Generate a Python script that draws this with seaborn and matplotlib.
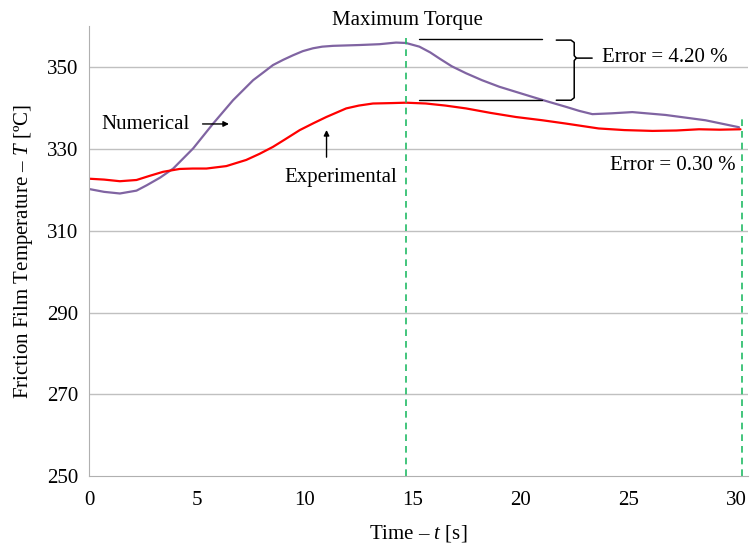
import numpy as np
import pandas as pd
import matplotlib
matplotlib.use("Agg")
import matplotlib.pyplot as plt
import seaborn as sns

# values
num_time = [0.0, 0.7, 1.43, 2.2, 2.67, 3.3, 3.9, 4.82, 5.75, 6.67, 7.6, 8.1, 8.52,
            9.0, 9.45, 9.9, 10.37, 10.8, 11.3, 12.53, 13.45, 14.22, 14.68, 15.3,
            15.8, 16.23, 16.8, 17.46, 18.2, 19.0, 19.8, 20.54, 21.3, 22.08, 22.7,
            23.31, 24.2, 25.16, 26.7, 28.55, 30.1]
num_temp = [320.2, 319.5, 319.1, 319.8, 321.1, 323.0, 325.2, 330.1, 336.2, 341.9,
            346.8, 348.8, 350.5, 351.8, 352.9, 353.9, 354.6, 355.0, 355.2, 355.4,
            355.6, 356.0, 355.9, 355.0, 353.6, 352.1, 350.2, 348.5, 346.8, 345.2,
            343.9, 342.7, 341.5, 340.3, 339.3, 338.5, 338.7, 339.0, 338.3, 337.0,
            335.3]

exp_time = [0.05, 0.7, 1.43, 2.2, 2.8, 3.43, 4.2, 4.8, 5.44, 6.36, 7.28, 7.9, 8.52,
            9.1, 9.76, 10.4, 10.99, 11.91, 12.5, 13.15, 14.0, 14.68, 15.6, 16.5,
            17.46, 18.6, 19.77, 21.0, 22.08, 23.6, 24.8, 26.1, 27.2, 28.25, 29.2,
            30.17]
exp_temp = [322.7, 322.5, 322.1, 322.4, 323.4, 324.4, 325.1, 325.2, 325.2, 325.8,
            327.3, 328.8, 330.5, 332.4, 334.6, 336.3, 337.8, 339.9, 340.6, 341.1,
            341.2, 341.3, 341.1, 340.6, 339.9, 338.8, 337.8, 337.0, 336.2, 335.0,
            334.6, 334.4, 334.5, 334.8, 334.7, 334.8]

x_ticks = [0, 5, 10, 15, 20, 25, 30]
y_ticks = [250, 270, 290, 310, 330, 350]
marker_lines = [14.68, 30.23]

sns.set_style("white")
plt.rcParams['font.family'] = ['Liberation Serif', 'DejaVu Serif']
plt.rcParams['mathtext.fontset'] = 'custom'
plt.rcParams['mathtext.rm'] = 'Liberation Serif'
plt.rcParams['mathtext.it'] = 'Liberation Serif:italic'
plt.rcParams['text.color'] = 'black'
plt.rcParams['axes.labelcolor'] = 'black'
plt.rcParams['xtick.labelcolor'] = 'black'
plt.rcParams['ytick.labelcolor'] = 'black'
fs = 15

fig = plt.figure(figsize=(7.51, 5.46), dpi=100)
ax = fig.add_axes([0.1185, 0.128, 0.877, 0.824])

num_df = pd.DataFrame({"t": num_time, "T": num_temp})
exp_df = pd.DataFrame({"t": exp_time, "T": exp_temp})
sns.lineplot(data=num_df, x="t", y="T", ax=ax, color="#8064A2", linewidth=1.6)
sns.lineplot(data=exp_df, x="t", y="T", ax=ax, color="#FF0000", linewidth=1.6)

ax.set_xlim(0, 30.5)
ax.set_ylim(250, 360)
ax.set_xticks(x_ticks)
ax.set_yticks(y_ticks)
for yv in y_ticks[1:]:
    ax.axhline(yv, color="#C0C0C0", linewidth=1, zorder=0)
for s in ["top", "right"]:
    ax.spines[s].set_visible(False)
for s in ["left", "bottom"]:
    ax.spines[s].set_color("#B0B0B0")
ax.tick_params(axis="both", length=5, color="#B0B0B0", labelsize=fs, direction="out")
ax.tick_params(axis="x", pad=6)
ax.tick_params(axis="y", pad=3)

ax.set_xlabel("Time – $\\it{t}$ [s]", fontsize=fs, labelpad=9)
ax.set_ylabel("Friction Film Temperature – $\\it{T}$ [ºC]", fontsize=fs, labelpad=8)

# green dashed markers
ax.plot([marker_lines[0]] * 2, [250, 357.2], color="#22BB66", linestyle=(0, (4, 3)),
        linewidth=1.2, clip_on=False)
ax.plot([marker_lines[1]] * 2, [250, 337.2], color="#22BB66", linestyle=(0, (4, 3)),
        linewidth=1.2, clip_on=False)

# annotations
ax.text(14.75, 361.5, "Maximum Torque", ha="center", va="center", fontsize=fs, clip_on=False)
ax.plot([15.3, 21.0], [356.8, 356.8], color="black", linewidth=1)
ax.plot([15.3, 21.0], [341.9, 341.9], color="black", linewidth=1)

# curly brace
bx0, bx1, bx2 = 21.64, 22.47, 23.3
yt, yb, ym = 356.6, 341.9, 352.2
ax.plot([bx0, bx1 - 0.15, bx1, bx1, bx1 + 0.1, bx2], [yt, yt, yt - 0.6, ym + 0.6, ym, ym],
        color="black", linewidth=1.1)
ax.plot([bx1 + 0.1, bx1, bx1, bx1 - 0.15, bx0], [ym, ym - 0.6, yb + 0.6, yb, yb],
        color="black", linewidth=1.1)
ax.text(23.76, 352.4, "Error = 4.20 %", ha="left", va="center", fontsize=fs)
ax.text(24.13, 326.0, "Error = 0.30 %", ha="left", va="center", fontsize=fs)

ax.text(0.58, 335.9, "Numerical", ha="left", va="center", fontsize=fs)
ax.annotate("", xy=(6.61, 336.1), xytext=(5.13, 336.1),
            arrowprops=dict(arrowstyle="-|>", color="black", lw=1, mutation_scale=8))
ax.text(9.06, 323.1, "Experimental", ha="left", va="center", fontsize=fs)
ax.annotate("", xy=(11.0, 335.3), xytext=(11.0, 327.3),
            arrowprops=dict(arrowstyle="-|>", color="black", lw=1, mutation_scale=8))

fig.savefig("out.png", dpi=100)
